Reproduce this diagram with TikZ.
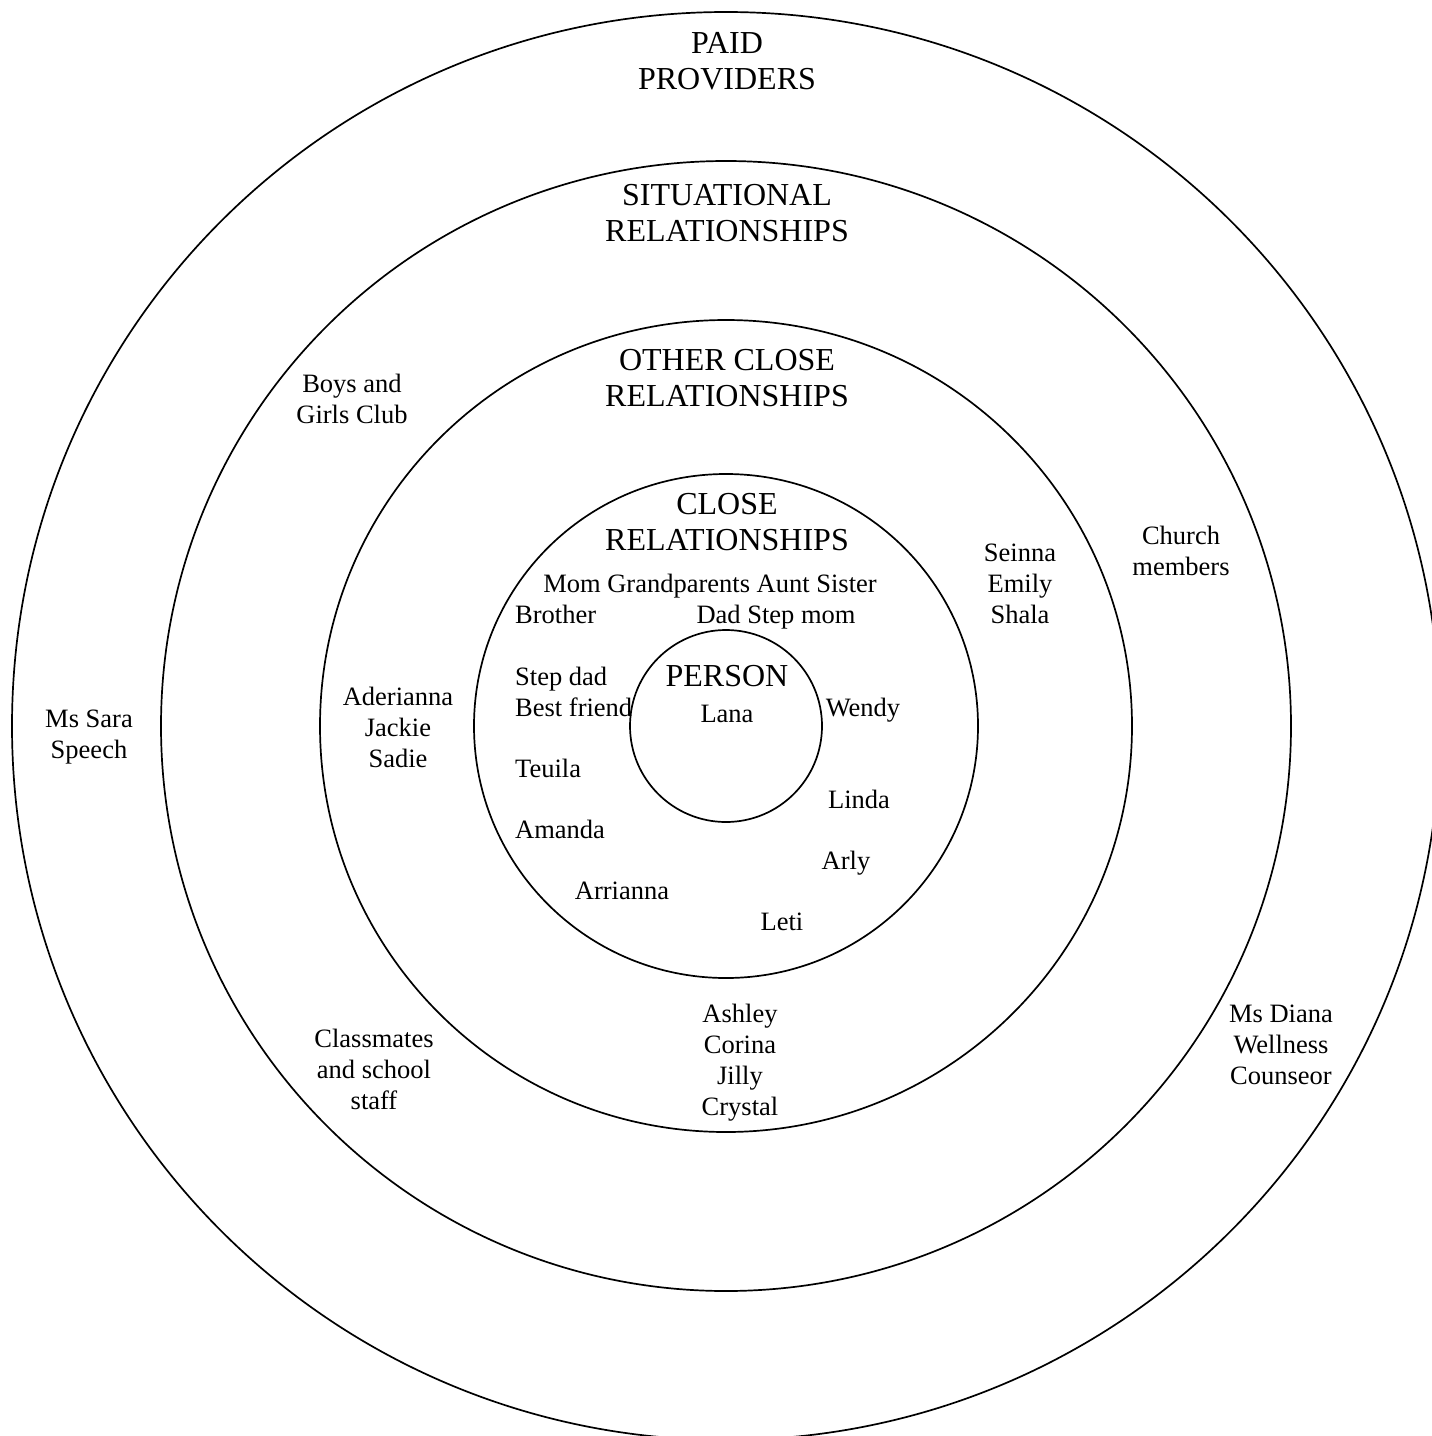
\documentclass[tikz,border=0pt]{standalone}
\usepackage{fontspec}
\setmainfont{Liberation Serif}
\begin{document}
\begin{tikzpicture}[x=1pt,y=-1pt,
  ring/.style={draw=black,line width=1.7pt},
  head/.style={inner sep=0pt,align=center,font=\fontsize{32}{36.5}\selectfont},
  lbl/.style={inner sep=0pt,align=center,font=\fontsize{26.5}{31}\selectfont},
  lbll/.style={inner sep=0pt,align=left,anchor=west,font=\fontsize{26.5}{31}\selectfont}]
\useasboundingbox (0,0) rectangle (1432,1436);
\clip (0,0) rectangle (1432,1436);
\coordinate (c) at (726,726);
\draw[ring] (c) circle[radius=714pt];
\draw[ring] (c) circle[radius=565pt];
\draw[ring] (c) circle[radius=406pt];
\draw[ring] (c) circle[radius=252pt];
\draw[ring] (c) circle[radius=96pt];
% headings
\node[head] (paid) at (727,61) {PAID\\PROVIDERS};
\node[head] (sit) at (727,213) {SITUATIONAL\\RELATIONSHIPS};
\node[head] (other) at (727,378) {OTHER CLOSE\\RELATIONSHIPS};
\node[head] (close) at (727,522) {CLOSE\\RELATIONSHIPS};
\node[head] (person) at (727,676) {PERSON};
\node[lbl] (lana) at (727,714) {Lana};
% close relationships
\node[lbl] (mom) at (710,586) {Mom Grandparents Aunt Sister};
\node[lbll] (brother) at (515,614) {Brother};
\node[lbl] (dad) at (776,617) {Dad Step mom};
\node[lbll] (stepdad) at (515,692) {Step dad\\Best friend};
\node[lbl] (wendy) at (863,710) {Wendy};
\node[lbll] (teuila) at (515,768) {Teuila};
\node[lbl] (linda) at (859,799) {Linda};
\node[lbll] (amanda) at (515,829) {Amanda};
\node[lbl] (arly) at (846,863) {Arly};
\node[lbl] (arrianna) at (622,891) {Arrianna};
\node[lbl] (leti) at (782,922) {Leti};
% other close
\node[lbl] (ashley) at (740,1063) {Ashley\\Corina\\Jilly\\Crystal};
\node[lbl] (aderianna) at (398,727) {Aderianna\\Jackie\\Sadie};
\node[lbl] (seinna) at (1020,584) {Seinna\\Emily\\Shala};
% situational
\node[lbl] (boys) at (352,399) {Boys and\\Girls Club};
\node[lbl] (classmates) at (374,1069) {Classmates\\and school\\staff};
\node[lbl] (church) at (1181,551) {Church\\members};
% paid
\node[lbl] (sara) at (89,737) {Ms Sara\\Speech};
\node[lbl] (diana) at (1281,1045) {Ms Diana\\Wellness\\Counseor};
\end{tikzpicture}
\end{document}
